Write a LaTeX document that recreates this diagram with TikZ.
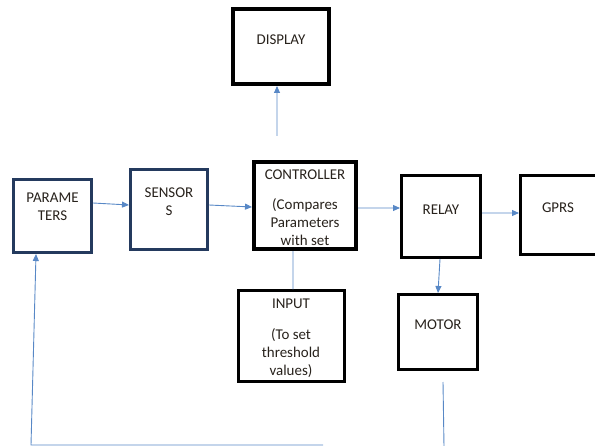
\documentclass[tikz,border=0pt]{standalone}
\usepackage{fontspec}
\setmainfont{Carlito}
\usepackage{xcolor}
\usetikzlibrary{arrows.meta, positioning}

\definecolor{linkblue}{RGB}{88,136,198}
\definecolor{navyedge}{RGB}{36,58,94}
\definecolor{inktext}{RGB}{40,34,28}

\tikzset{
  block/.style={draw=black, line width=3bp, fill=white, inner sep=0pt},
  heavyblock/.style={block, line width=4bp},
  navyblock/.style={block, draw=navyedge},
  boxtext/.style={anchor=north, align=center, inner sep=0pt, text=inktext},
  link/.style={draw=linkblue, line width=0.9bp},
  linkarrow/.style={link, -{Triangle[length=7bp, width=6bp]}}
}

\begin{document}
\begin{tikzpicture}[x=1bp, y=-1bp, font=\fontsize{15}{18}\selectfont]
    % Fix the page to the reference frame
    \path[use as bounding box, clip] (0,0) rectangle (595,446);

    % Draw the blocks
    \node[navyblock, minimum width=78bp, minimum height=73bp,
      label={[boxtext, yshift=-15bp]north:{PARAME\\TERS}}] (param) at (52.5,216) {};
    \node[navyblock, minimum width=77bp, minimum height=80bp,
      label={[boxtext, yshift=-20bp]north:{SENSOR\\S}}] (sens) at (169,209.5) {};
    \node[heavyblock, minimum width=102bp, minimum height=87bp,
      label={[boxtext, yshift=-10bp]north:{CONTROLLER\\[12bp](Compares\\Parameters\\with set}}] (ctrl) at (305,205.5) {};
    \node[heavyblock, minimum width=96bp, minimum height=75bp,
      label={[boxtext, yshift=-28bp]north:DISPLAY}] (disp) at (281,46.5) {};
    \node[block, minimum width=79bp, minimum height=82bp,
      label={[boxtext, yshift=-31bp]north:RELAY}] (relay) at (441,216.5) {};
    \node[block, minimum width=79bp, minimum height=79bp,
      label={[boxtext, yshift=-29bp, xshift=-2bp]north:GPRS}] (gprs) at (560,215) {};
    \node[block, minimum width=106bp, minimum height=90bp,
      label={[boxtext, yshift=-9bp]north:{INPUT\\[13bp](To set\\threshold\\values)}}] (input) at (291,336) {};
    \node[block, minimum width=79bp, minimum height=75bp,
      label={[boxtext, yshift=-27bp]north:MOTOR}] (motor) at (438,332) {};

    % Free ends of the open lines
    \coordinate (dfoot) at (277,136);
    \coordinate (mtop) at (443,382);
    \coordinate (mbot) at (444,447);
    \coordinate (fbend) at (323,445);
    \coordinate (fbcorner) at (31,445);

    % Draw the signal flow
    \draw[linkarrow] ([yshift=13bp]param.east) -- ([yshift=4.5bp]sens.west);
    \draw[linkarrow] ([yshift=4.5bp]sens.east) -- ([yshift=-1.5bp]ctrl.west);
    \draw[linkarrow] ([yshift=-2.5bp]ctrl.east) -- ([yshift=8.5bp]relay.west);
    \draw[linkarrow] ([yshift=3.5bp]relay.east) -- ([yshift=2bp]gprs.west);
    \draw[linkarrow] ([xshift=-1bp]relay.south) -- (motor.north);
    \draw[link] ([xshift=-12bp]ctrl.south) -- ([xshift=2bp]input.north);
    \draw[linkarrow] (dfoot) -- ([xshift=-4bp]disp.south);

    % Draw the feedback line
    \draw[link] (mtop) -- (mbot);
    \draw[linkarrow] (fbend) -- (fbcorner) -- ([xshift=-16.5bp]param.south);
\end{tikzpicture}
\end{document}
